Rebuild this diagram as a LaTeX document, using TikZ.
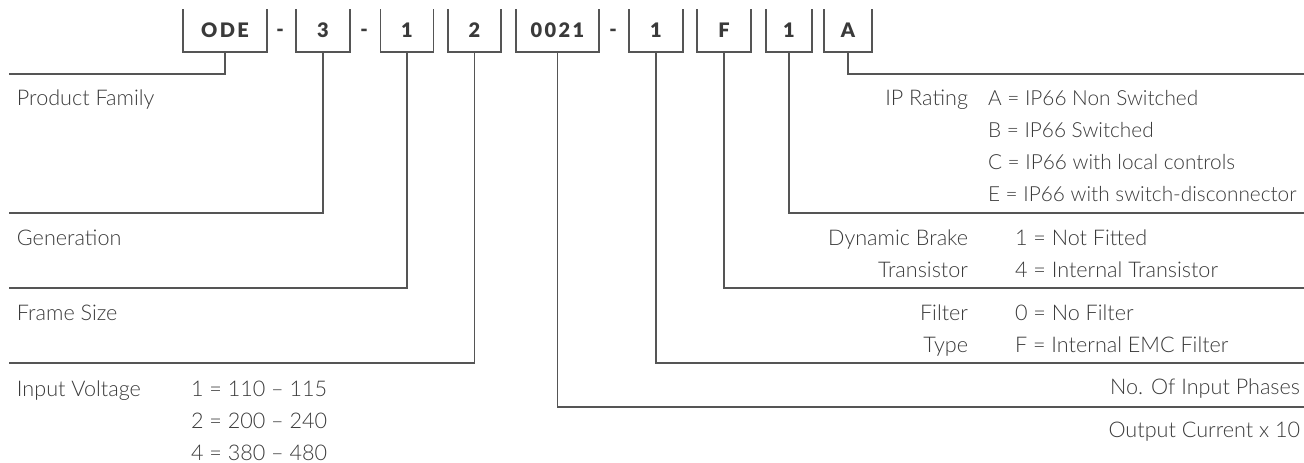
\documentclass[tikz,border=0pt]{standalone}
\usepackage{fontspec}
\setmainfont{Lato}[UprightFont=* Light, BoldFont=* Black]
\usepackage{tikz}
\usetikzlibrary{positioning}
\definecolor{inkgrey}{HTML}{3A3A3A}
\definecolor{rulegrey}{HTML}{555555}

\begin{document}
\begin{tikzpicture}[
x=0.5pt, y=-0.5pt,
every node/.style={font=\fontsize{10.8}{16}\selectfont, text=inkgrey, inner sep=0pt, outer sep=0pt},
code/.style={minimum height=21.5pt, font=\fontsize{10}{12}\selectfont\bfseries\addfontfeature{LetterSpace=12}},
joiner/.style={anchor=base, font=\fontsize{10}{12}\selectfont\bfseries},
line/.style={draw=rulegrey, line width=0.6pt}
]

\useasboundingbox (0,0) rectangle (1304,462);

% code boxes
\node[code, minimum width=42pt] (family) at (225,30.5) {ODE};
\node[code, minimum width=27pt] (gen) at (323,30.5) {3};
\node[code, minimum width=26.5pt] (frame) at (407,30.5) {1};
\node[code, minimum width=26.5pt] (volt) at (474.5,30.5) {2};
\node[code, minimum width=41.5pt] (amps) at (557.5,30.5) {0021};
\node[code, minimum width=27pt] (phase) at (656,30.5) {1};
\node[code, minimum width=27pt] (filter) at (724,30.5) {F};
\node[code, minimum width=23pt] (brake) at (789,30.5) {1};
\node[code, minimum width=24pt] (iprate) at (848,30.5) {A};

\node[joiner] (dashA) at (280,36) {-};
\node[joiner] (dashB) at (364,36) {-};
\node[joiner] (dashC) at (613,36) {-};

\foreach \b in {family,gen,frame,volt,amps,phase,filter,brake,iprate}
  \draw[line] (\b.north west) -- (\b.south west) -- (\b.south east) -- (\b.north east);

% line ends
\coordinate (familyEnd) at (9,74);
\coordinate (genEnd) at (9,213);
\coordinate (frameEnd) at (9,288);
\coordinate (voltEnd) at (9,363);
\coordinate (ampsEnd) at (1304,407);
\coordinate (phaseEnd) at (1304,363);
\coordinate (filterEnd) at (1304,288);
\coordinate (brakeEnd) at (1304,213);
\coordinate (iprateEnd) at (1304,74);

\draw[line] (family.south) |- (familyEnd);
\draw[line] (gen.south) |- (genEnd);
\draw[line] (frame.south) |- (frameEnd);
\draw[line] (volt.south) |- (voltEnd);
\draw[line] (amps.south) |- (ampsEnd);
\draw[line] (phase.south) |- (phaseEnd);
\draw[line] (filter.south) |- (filterEnd);
\draw[line] (brake.south) |- (brakeEnd);
\draw[line] (iprate.south) |- (iprateEnd);

% left labels (multi-line nodes sit on their last line)
\node[anchor=base west] (familyTxt) at (17,105) {Product Family};
\node[anchor=base west] (genTxt) at (17,245) {Generation};
\node[anchor=base west] (frameTxt) at (17,320) {Frame Size};
\node[anchor=base west] (voltTxt) at (17,396) {Input Voltage};
\node[anchor=base west, align=left] (voltVal) at (191,460) {1 = 110 -- 115\\2 = 200 -- 240\\4 = 380 -- 480};

% right labels
\node[anchor=base east] (iprateTxt) at (968,105) {IP Rating};
\node[anchor=base west, align=left, font=\fontsize{10.4}{16}\selectfont] (iprateVal) at (988,201) {A = IP66 Non Switched\\B = IP66 Switched\\C = IP66 with local controls\\E = IP66 with switch-disconnector};
\node[anchor=base east, align=right] (brakeTxt) at (968,277) {Dynamic Brake\\Transistor};
\node[anchor=base west, align=left] (brakeVal) at (1015,277) {1 = Not Fitted\\4 = Internal Transistor};
\node[anchor=base east, align=right] (filterTxt) at (968,352) {Filter\\Type};
\node[anchor=base west, align=left] (filterVal) at (1015,352) {0 = No Filter\\F = Internal EMC Filter};
\node[anchor=base east] (phaseTxt) at (1300,394) {No. Of Input Phases};
\node[anchor=base east] (ampsTxt) at (1300,437) {Output Current x 10};

\end{tikzpicture}
\end{document}
